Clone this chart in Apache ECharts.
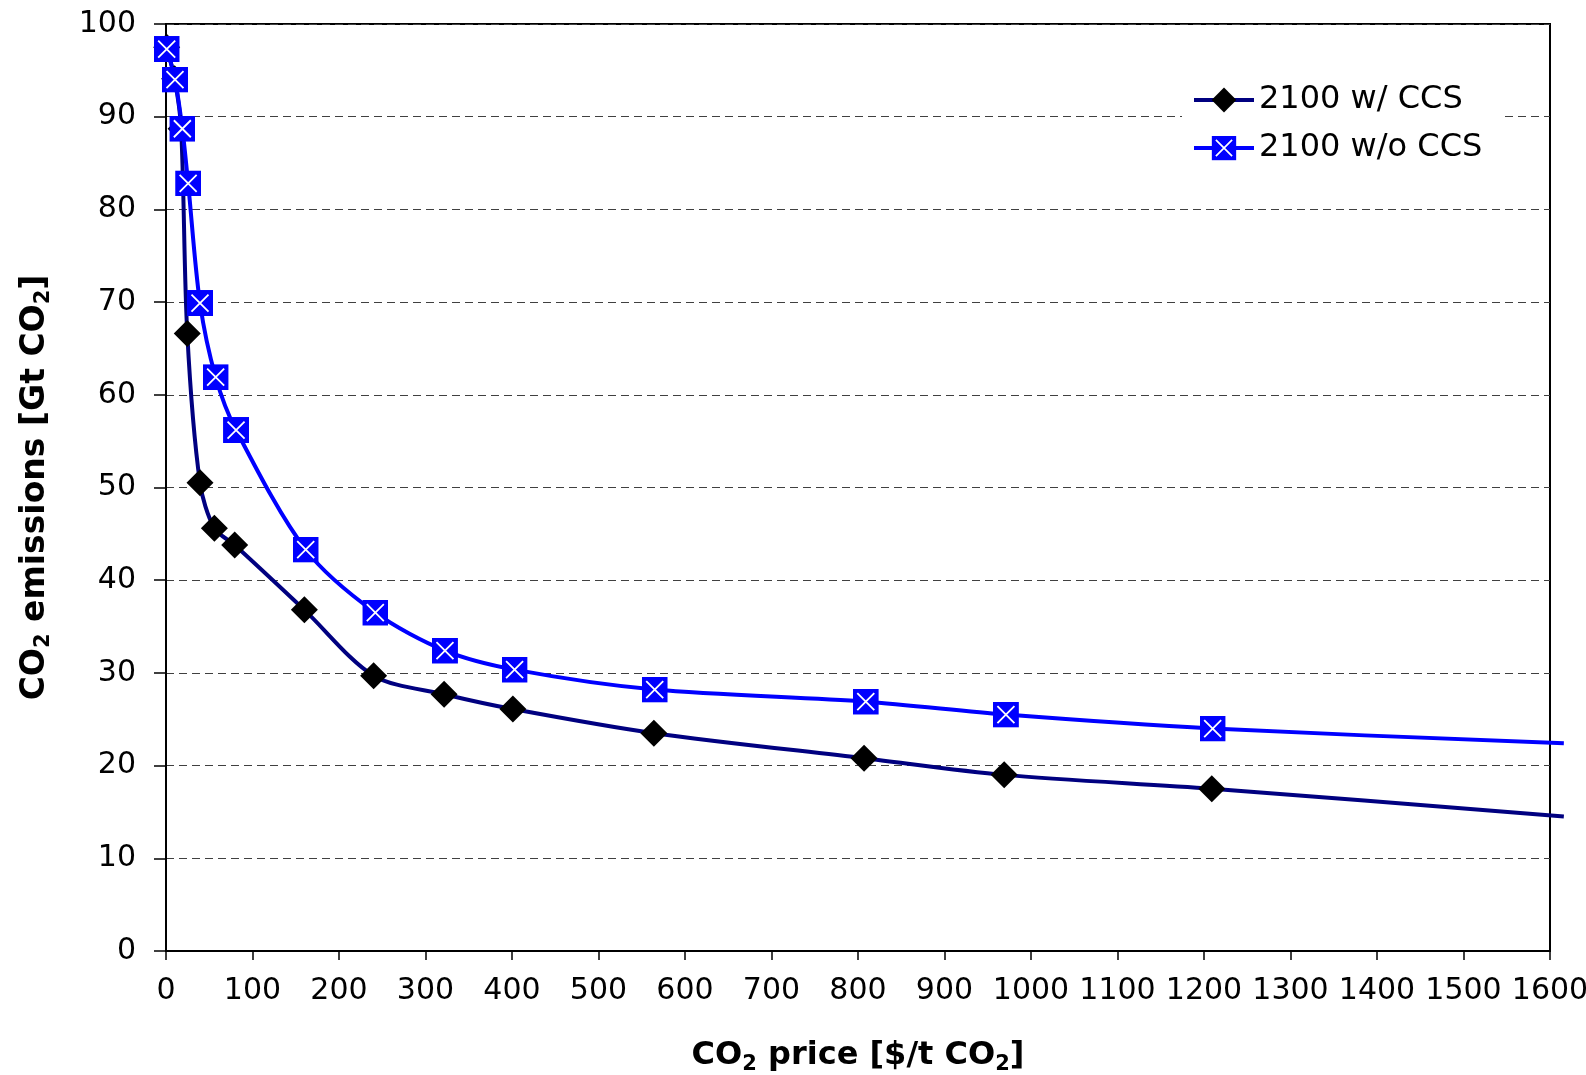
<!DOCTYPE html>
<html>
<head>
<meta charset="utf-8">
<script src="https://cdn.jsdelivr.net/npm/echarts@6/dist/echarts.min.js"></script>
<style>
html,body{margin:0;padding:0;background:#fff;}
#chart{width:1586px;height:1075px;}
</style>
</head>
<body>
<div id="chart"></div>
<script>
// ---- data ----
const seriesNames = ['2100 w/ CCS', '2100 w/o CCS'];
const priceWithCCS = [0.8, 10, 17.5, 24.6, 39.3, 55.9, 79.4, 160, 240, 321.5, 401, 564, 807, 969, 1209, 1616];
const emisWithCCS  = [97.5, 94.1, 88.7, 66.6, 50.5, 45.6, 43.8, 36.8, 29.7, 27.7, 26.1, 23.5, 20.8, 19.0, 17.5, 14.5];
const priceNoCCS   = [0.8, 10.4, 18.9, 25.6, 39.3, 57.4, 81, 161.5, 242, 322.5, 403, 565, 809, 971, 1210, 1616];
const emisNoCCS    = [97.3, 94.0, 88.7, 82.8, 69.9, 61.9, 56.2, 43.3, 36.5, 32.4, 30.35, 28.2, 26.9, 25.5, 24.0, 22.4];
// the last point of each curve is only a line end (no marker), drawn a little past the frame
const lastIsLineOnly = true;
const yTicks = {min: 0, max: 100, interval: 10};
const xTicks = {min: 0, max: 1600, interval: 100};

// layout
const G = {left: 166, top: 24, right: 36, bottom: 124, overhang: 16};
const plotW = 1586 - G.left - G.right;
const xMaxData = xTicks.max * (plotW + G.overhang) / plotW; // same scale, wider box so the line tail is not clipped

const FONT = 'DejaVu Sans, Liberation Sans, Arial, sans-serif';
const squareX = 'image://data:image/svg+xml;charset=utf-8,' + encodeURIComponent(
  "<svg xmlns='http://www.w3.org/2000/svg' width='52' height='52' viewBox='0 0 26 26'>" +
  "<rect width='26' height='26' fill='#0000FF'/>" +
  "<path d='M4.5,4.5L21.5,21.5M21.5,4.5L4.5,21.5' stroke='#ffffff' stroke-width='1.8'/></svg>");

function build(xs, ys) {
  return xs.map((x, i) => {
    const item = {value: [x, ys[i]]};
    if (lastIsLineOnly && i === xs.length - 1) item.symbol = 'none';
    return item;
  });
}

const chart = echarts.init(document.getElementById('chart'), null, {renderer: 'canvas'});
const nameRich = {
  s: {fontSize: 21, fontWeight: 'bold', fontFamily: FONT, color: '#000', verticalAlign: 'bottom', lineHeight: 20}
};
chart.setOption({
  backgroundColor: '#fff',
  animation: false,
  grid: [
    {left: G.left, top: G.top, right: G.right, bottom: G.bottom, show: true, borderColor: '#000', borderWidth: 2,
     containLabel: false, outerBoundsMode: 'none'},
    {left: G.left, top: G.top, right: G.right - G.overhang, bottom: G.bottom, show: false,
     containLabel: false, outerBoundsMode: 'none'}
  ],
  legend: {
    orient: 'vertical',
    left: 1182, top: 74,
    padding: [10, 22, 10, 10],
    backgroundColor: '#fff',
    itemWidth: 60, itemHeight: 31, itemGap: 16,
    lineStyle: {width: 4},
    textStyle: {fontSize: 32, fontFamily: FONT, color: '#000'},
    data: seriesNames
  },
  xAxis: [{
    type: 'value', gridIndex: 0, min: xTicks.min, max: xTicks.max, interval: xTicks.interval,
    axisLine: {show: true, lineStyle: {color: '#000', width: 2}},
    axisTick: {show: true, length: 9, lineStyle: {color: '#000', width: 1.5}},
    axisLabel: {fontSize: 30, fontFamily: FONT, color: '#000', margin: 25, formatter: v => String(v)},
    splitLine: {show: false},
    name: 'CO{s|2} price [$/t CO{s|2}]',
    nameLocation: 'middle', nameGap: 86,
    nameTextStyle: {fontSize: 32, fontWeight: 'bold', fontFamily: FONT, color: '#000', lineHeight: 38, rich: nameRich}
  }, {
    type: 'value', gridIndex: 1, min: xTicks.min, max: xMaxData, show: false
  }],
  yAxis: [{
    type: 'value', gridIndex: 0, min: yTicks.min, max: yTicks.max, interval: yTicks.interval,
    axisLine: {show: true, lineStyle: {color: '#000', width: 2}},
    axisTick: {show: true, length: 12, lineStyle: {color: '#000', width: 1.5}},
    axisLabel: {fontSize: 30, fontFamily: FONT, color: '#000', margin: 30, formatter: v => String(v)},
    splitLine: {show: true, lineStyle: {color: '#404040', width: 1.2, type: [8, 5]}},
    name: 'CO{s|2} emissions [Gt CO{s|2}]',
    nameLocation: 'middle', nameGap: 112,
    nameTextStyle: {fontSize: 33, fontWeight: 'bold', fontFamily: FONT, color: '#000', lineHeight: 38, rich: nameRich}
  }, {
    type: 'value', gridIndex: 1, min: yTicks.min, max: yTicks.max, show: false
  }],
  series: [
    {
      name: seriesNames[0], type: 'line', xAxisIndex: 1, yAxisIndex: 1, clip: false,
      smooth: 0.3,
      symbol: 'diamond', symbolSize: 27, showAllSymbol: true,
      lineStyle: {color: '#000080', width: 4},
      itemStyle: {color: '#000000', borderWidth: 0},
      data: build(priceWithCCS, emisWithCCS)
    },
    {
      name: seriesNames[1], type: 'line', xAxisIndex: 1, yAxisIndex: 1, clip: false,
      smooth: 0.3,
      symbol: squareX, symbolSize: 26, showAllSymbol: true,
      lineStyle: {color: '#0000FF', width: 4},
      itemStyle: {color: '#0000FF', borderWidth: 0},
      data: build(priceNoCCS, emisNoCCS)
    }
  ]
});
</script>
</body>
</html>
